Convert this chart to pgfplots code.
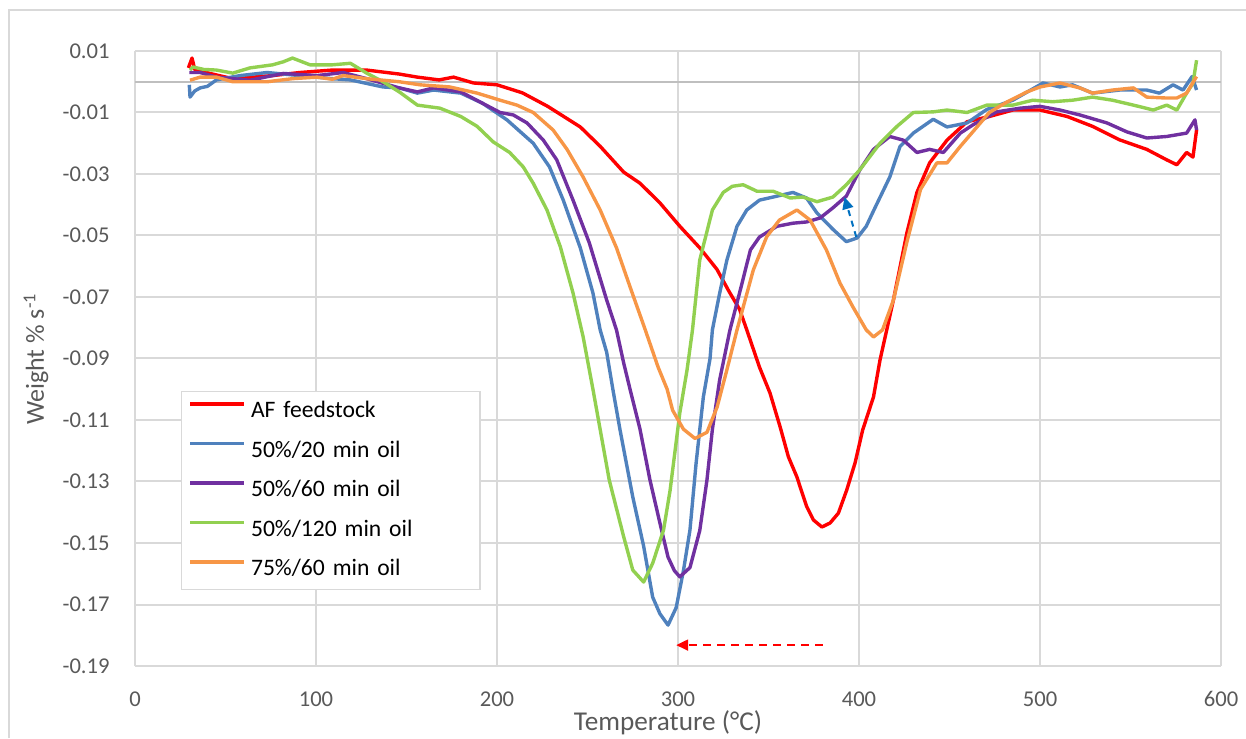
\documentclass[border=0pt]{standalone}
\usepackage{fontspec}
\setmainfont{Carlito}
\usepackage{pgfplots}
\pgfplotsset{compat=1.18}
\usetikzlibrary{arrows.meta}
\definecolor{cRed}{HTML}{FF0000}
\definecolor{cBlue}{HTML}{4F81BD}
\definecolor{cPurple}{HTML}{7030A0}
\definecolor{cGreen}{HTML}{92D050}
\definecolor{cOrange}{HTML}{F79646}
\definecolor{cArrow}{HTML}{0070C0}
\definecolor{gridgray}{HTML}{D9D9D9}
\definecolor{zerogray}{HTML}{BFBFBF}
\definecolor{tickgray}{HTML}{595959}
\begin{document}
\begin{tikzpicture}
\path[use as bounding box] (0,0) rectangle (623pt,369pt);
\draw[color=gridgray, line width=1pt] (4.5pt,0) -- (4.5pt,364pt) -- (623pt,364pt);
\begin{axis}[
  at={(67.5pt,36pt)}, anchor=south west,
  scale only axis, width=543pt, height=307.5pt,
  xmin=0, xmax=600, ymin=-0.19, ymax=0.01,
  xtick={0,100,200,300,400,500,600},
  xticklabels={0,100,200,300,400,500,600},
  ytick={-0.19,-0.17,-0.15,-0.13,-0.11,-0.09,-0.07,-0.05,-0.03,-0.01,0.01},
  yticklabels={-0.19,-0.17,-0.15,-0.13,-0.11,-0.09,-0.07,-0.05,-0.03,-0.01,0.01},
  grid=major, major grid style={color=gridgray, line width=1pt},
  axis line style={draw=none}, major tick length=0pt, tick style={draw=none},
  ticklabel style={font=\fontsize{11.3}{13}\selectfont, text=tickgray},
  yticklabel style={anchor=east, inner sep=0pt, xshift=-12.5pt},
  xticklabel style={anchor=north, inner sep=0pt, yshift=-12.5pt},
  every axis plot/.append style={line width=1.7pt, line join=round},
  legend cell align=left,
  legend image code/.code={\draw[#1, line width=1.7pt] (0pt,3.8pt) -- (27pt,3.8pt);},
  legend style={at={(0.0424,0.447)}, anchor=north west, draw=gridgray, line width=0.6pt,
    fill=white, inner xsep=3.5pt, inner ysep=4.5pt, row sep=8.75pt,
    font=\fontsize{11.8}{14}\selectfont,
    nodes={inner sep=0pt, text height=8.5pt, text depth=2.5pt},
    /tikz/every odd column/.style={column sep=2.5pt},
    /tikz/column 2/.style={nodes={text width=111pt, align=left}}},
]
\draw[color=zerogray, line width=1pt] (axis cs:0,0) -- (axis cs:600,0);

\addplot[color=cRed] table {
29.5 0.0045
31.5 0.0077
33 0.004
36 0.0035
45 0.0022
54 0.001
65 0.0015
76 0.002
91 0.003
109 0.0038
128 0.0038
146 0.0025
156 0.0015
168 0.0006
176 0.0015
187 -0.0004
200 -0.001
214 -0.0036
228 -0.008
246 -0.0147
257 -0.021
270 -0.0294
279 -0.033
290 -0.0394
301 -0.047
312 -0.054
321.5 -0.061
328 -0.068
334 -0.074
338 -0.0807
345 -0.0928
350.8 -0.1012
356.4 -0.1122
361 -0.122
365.6 -0.1284
371 -0.138
374.8 -0.1425
379.5 -0.1448
384 -0.1435
388.6 -0.1403
393.2 -0.1328
397.8 -0.124
402 -0.1133
408 -0.1025
411.6 -0.0905
419 -0.071
426.5 -0.049
432 -0.036
439 -0.0264
448.6 -0.019
459.7 -0.013
472 -0.0113
485 -0.0092
500 -0.0092
515 -0.0113
529 -0.0145
544 -0.0189
559 -0.022
570 -0.0254
575.6 -0.027
581 -0.023
584.5 -0.0245
586.5 -0.0157
};
\addlegendentry{AF feedstock}

\addplot[color=cBlue] table {
30 -0.001
30.4 -0.005
33 -0.003
36 -0.002
40 -0.0015
45 0.0006
58 0.002
73 0.003
91 0.002
109 0.001
119 0.0006
137 -0.0017
146 -0.002
156 -0.0037
165 -0.0027
180 -0.0037
192 -0.007
205.5 -0.0124
220 -0.020
229 -0.0277
236.6 -0.0385
246 -0.054
253 -0.0687
257 -0.0807
260.6 -0.088
264 -0.100
268 -0.1133
275 -0.135
281 -0.151
286 -0.1676
290 -0.173
294.5 -0.1767
299 -0.171
303 -0.159
306.6 -0.1458
310 -0.124
314 -0.1025
317.7 -0.090
319 -0.0807
323 -0.0688
327 -0.058
332.6 -0.047
338 -0.0417
345 -0.0385
352.5 -0.0375
363.5 -0.036
371 -0.0378
376.8 -0.0427
385.6 -0.048
393 -0.052
399 -0.0508
404 -0.047
408 -0.042
417 -0.031
422.7 -0.021
430 -0.0167
441 -0.0122
448.6 -0.0147
459.7 -0.0134
470.6 -0.009
485 -0.006
501.7 -0.0004
511 -0.0017
518 -0.001
529 -0.0037
544 -0.0027
559 -0.0027
566 -0.0037
573.5 -0.001
579 -0.0027
584 0.0017
586.5 -0.0027
};
\addlegendentry{50\%/20 min oil}

\addplot[color=cPurple] table {
30 0.003
36 0.003
45 0.0015
63.5 0.0005
82 0.0027
100.5 0.002
115 0.003
128 0.001
146 -0.002
156 -0.0033
165 -0.002
180 -0.0033
192 -0.007
201.7 -0.010
209 -0.0108
216.6 -0.0134
225.6 -0.019
233 -0.0254
242 -0.0385
251 -0.0524
260.6 -0.071
266 -0.0807
270 -0.0915
273.5 -0.100
279 -0.113
284.5 -0.1295
290 -0.1435
294.5 -0.1546
298 -0.159
301 -0.161
306.6 -0.158
312 -0.146
316 -0.1295
319 -0.113
323 -0.097
328.7 -0.0807
334 -0.0687
340 -0.0547
345 -0.0505
354.7 -0.047
363.5 -0.046
371 -0.0456
378.5 -0.0443
385.6 -0.041
393 -0.0372
400.5 -0.0286
408 -0.022
417 -0.0178
424.5 -0.019
432 -0.023
439 -0.022
446.6 -0.023
456 -0.0167
463 -0.014
476 -0.0098
489 -0.0086
500 -0.008
511 -0.0092
522 -0.0108
537 -0.0134
548 -0.0163
559 -0.0183
570 -0.0178
581 -0.0167
585.6 -0.0124
586.5 -0.0157
};
\addlegendentry{50\%/60 min oil}

\addplot[color=cGreen] table {
30.4 0.0038
32 0.0048
38 0.004
45 0.0038
54 0.0028
63.5 0.0045
76 0.0055
82 0.0065
87 0.0077
96.7 0.0055
109 0.0055
119 0.006
128 0.0028
137 0.0
146 -0.0033
156 -0.0076
168.5 -0.0086
180 -0.0113
189 -0.0145
198 -0.0196
207 -0.023
214.5 -0.0277
220 -0.033
227.6 -0.0417
235 -0.0537
242 -0.0687
247.6 -0.083
253 -0.100
262 -0.1295
270 -0.148
275 -0.1588
281 -0.1627
286 -0.1566
292 -0.1458
295.6 -0.133
301 -0.1077
305 -0.0937
308 -0.0807
312 -0.058
319 -0.0417
325 -0.036
330 -0.034
336 -0.0335
343.6 -0.0356
352.5 -0.0356
362 -0.0378
369 -0.0375
376.8 -0.039
385.6 -0.0375
393 -0.0335
400.5 -0.0286
411.6 -0.020
421 -0.0145
430 -0.010
441 -0.0098
448.6 -0.0092
459.7 -0.010
470.6 -0.0076
485 -0.0076
496 -0.006
507 -0.0065
518 -0.006
529 -0.005
540 -0.006
551.6 -0.0076
562.6 -0.0092
570 -0.0076
575.6 -0.0092
581 -0.0037
584.5 -0.0005
586.5 0.007
};
\addlegendentry{50\%/120 min oil}

\addplot[color=cOrange] table {
30.4 0.0005
36 0.0015
45 0.0015
54 0.0
73 0.0
87 0.001
100.5 0.0015
109 0.0008
115 0.002
128 0.001
146 0.0
157.5 -0.001
174 -0.0017
189 -0.0037
201.7 -0.006
211 -0.0076
220 -0.010
231 -0.0157
238.7 -0.022
247.6 -0.031
257 -0.0417
266 -0.054
273.5 -0.0667
281.5 -0.080
289 -0.0928
294 -0.100
297 -0.1068
303 -0.113
309.4 -0.116
316 -0.114
321.6 -0.1058
327 -0.0937
332.6 -0.0807
341.6 -0.0612
349 -0.0504
356 -0.045
365.7 -0.0417
373 -0.045
382 -0.0547
389.5 -0.0655
396.7 -0.0733
404 -0.0807
408 -0.083
413 -0.0807
419 -0.071
426.5 -0.052
434 -0.035
443 -0.0264
448.6 -0.0264
456 -0.021
463 -0.0162
472 -0.010
481.7 -0.0066
492.8 -0.0033
500 -0.0017
511 -0.0004
522 -0.002
529 -0.0037
540 -0.0027
551.6 -0.002
559 -0.005
570 -0.0053
575.6 -0.0053
581 -0.0037
586.5 0.0017
};
\addlegendentry{75\%/60 min oil}

\draw[color=cRed, line width=1pt, dash pattern=on 4pt off 3pt, -{Triangle[length=6pt,width=5.5pt]}]
  (axis cs:380,-0.1832) -- (axis cs:299,-0.1832);
\draw[color=cArrow, line width=1pt, dash pattern=on 3pt off 2.5pt, -{Triangle[length=6pt,width=5.5pt]}]
  (axis cs:398.5,-0.0505) -- (axis cs:392,-0.0375);
\end{axis}
\node[rotate=90, font=\fontsize{13}{15}\selectfont, text=tickgray] at (18pt,189.5pt) {Weight \% s\textsuperscript{-1}};
\node[font=\fontsize{13.6}{15}\selectfont, text=tickgray] at (334pt,7.5pt) {Temperature (°C)};
\end{tikzpicture}
\end{document}
